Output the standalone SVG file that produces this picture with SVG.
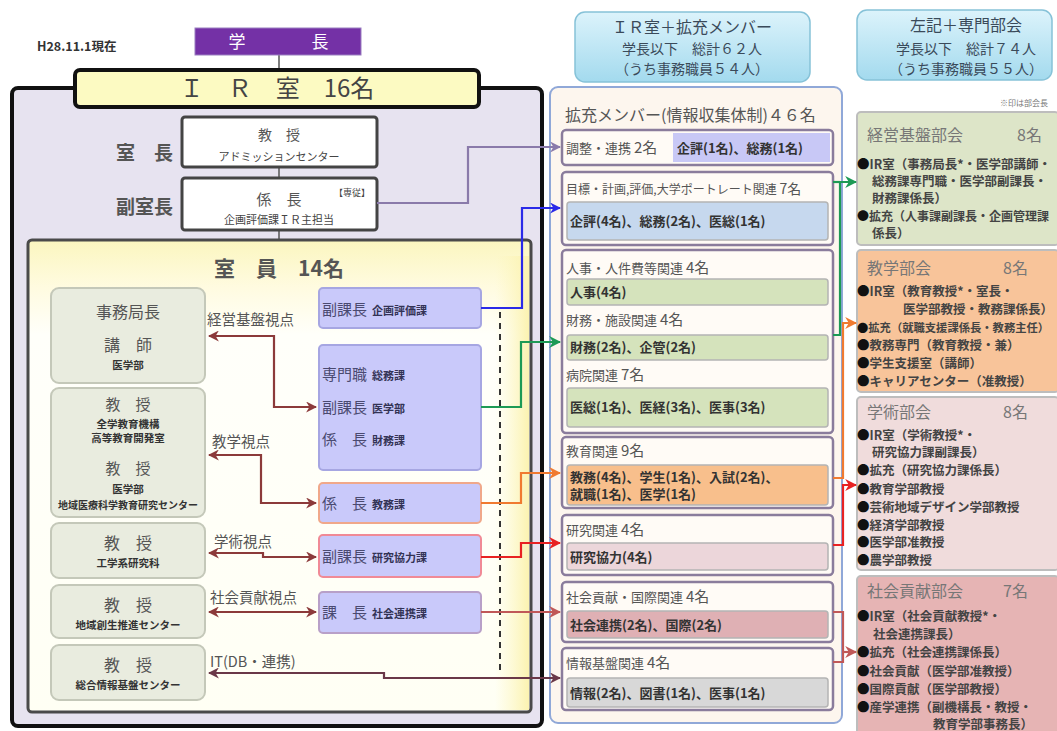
<svg xmlns="http://www.w3.org/2000/svg" width="1057" height="731" viewBox="0 0 1057 731">
<defs>
  <linearGradient id="gCyan" x1="0" y1="0" x2="0" y2="1"><stop offset="0" stop-color="#dcf3fb"/><stop offset="1" stop-color="#a3daee"/></linearGradient>
  <linearGradient id="gMem" x1="0" y1="0" x2="0" y2="1"><stop offset="0" stop-color="#fbf6bf"/><stop offset="0.1" stop-color="#fffbe0"/><stop offset="0.2" stop-color="#fffffa"/><stop offset="1" stop-color="#fffff4"/></linearGradient>
  <linearGradient id="gMemR" x1="0" y1="0" x2="1" y2="0"><stop offset="0" stop-color="#fdf7c0" stop-opacity="0"/><stop offset="1" stop-color="#fbf2b0"/></linearGradient>
  <marker id="mBrown" viewBox="0 0 10 10" refX="9" refY="5" markerWidth="11" markerHeight="11" markerUnits="userSpaceOnUse" orient="auto-start-reverse"><path d="M0,0 L10,5 L0,10 L3,5 z" fill="#8c3a3a"/></marker>
  <marker id="mDark" viewBox="0 0 10 10" refX="9" refY="5" markerWidth="11" markerHeight="11" markerUnits="userSpaceOnUse" orient="auto-start-reverse"><path d="M0,0 L10,5 L0,10 L3,5 z" fill="#6a3848"/></marker>
  <marker id="mGray" viewBox="0 0 10 10" refX="9" refY="5" markerWidth="11" markerHeight="11" markerUnits="userSpaceOnUse" orient="auto"><path d="M0,0 L10,5 L0,10 L3,5 z" fill="#8a7aaa"/></marker>
  <marker id="mBlue" viewBox="0 0 10 10" refX="9" refY="5" markerWidth="11" markerHeight="11" markerUnits="userSpaceOnUse" orient="auto"><path d="M0,0 L10,5 L0,10 L3,5 z" fill="#2a2ae8"/></marker>
  <marker id="mGreen" viewBox="0 0 10 10" refX="9" refY="5" markerWidth="12" markerHeight="12" markerUnits="userSpaceOnUse" orient="auto"><path d="M0,0 L10,5 L0,10 L3,5 z" fill="#1d9a55"/></marker>
  <marker id="mOrange" viewBox="0 0 10 10" refX="9" refY="5" markerWidth="12" markerHeight="12" markerUnits="userSpaceOnUse" orient="auto"><path d="M0,0 L10,5 L0,10 L3,5 z" fill="#f07a30"/></marker>
  <marker id="mRed" viewBox="0 0 10 10" refX="9" refY="5" markerWidth="12" markerHeight="12" markerUnits="userSpaceOnUse" orient="auto"><path d="M0,0 L10,5 L0,10 L3,5 z" fill="#e82222"/></marker>
  <marker id="mRose" viewBox="0 0 10 10" refX="9" refY="5" markerWidth="12" markerHeight="12" markerUnits="userSpaceOnUse" orient="auto"><path d="M0,0 L10,5 L0,10 L3,5 z" fill="#c05858"/></marker>
</defs>
<style>
  text { font-family: "Noto Sans CJK JP", "Noto Sans", sans-serif; fill: #444; }
  .c { text-anchor: middle; }
  .b { font-weight: 700; }
  .lbox { fill: #e9ecdf; stroke: #c4c8b9; stroke-width: 2; }
  .lt { font-size: 16px; fill: #555; text-anchor: middle; }
  .ls { font-size: 10.5px; font-weight: 700; fill: #333; text-anchor: middle; }
  .pbox { fill: #c9c9fa; stroke: #a6a6e2; stroke-width: 2; }
  .pt { font-size: 15px; fill: #4a4a70; }
  .ps { font-size: 11px; font-weight: 700; fill: #333355; }
  .view { font-size: 14.5px; fill: #555; }
  .sub { fill: #fffbf6; stroke: #8a7c9c; stroke-width: 2.5; }
  .in { stroke: #b4b4b4; stroke-width: 1.5; }
  .mt { font-size: 13px; fill: #555; }
  .mi { font-size: 13px; fill: #333; font-weight: 700; }
  .rbox { stroke: #bdbdbd; stroke-width: 2; }
  .rt { font-size: 16px; fill: #777; }
  .rb { font-size: 12.5px; fill: #444; font-weight: 700; }
  .dot { fill: #111; }
  .hd { font-size: 14px; fill: #3a4a5a; text-anchor: middle; }
  .conn { fill: none; stroke-width: 2.2; }
</style>
<rect width="1057" height="731" fill="#ffffff"/>

<text x="37" y="51" style="font-size:12.5px;fill:#333" class="b">H28.11.1現在</text>

<g id="ir-frame">
  <rect x="12" y="88" width="530" height="638" rx="6" fill="#e7e3f0" stroke="#111" stroke-width="4"/>
</g>

<g id="connectors-vertical" stroke="#555" stroke-width="1.5">
  <line x1="279" y1="55" x2="279" y2="70"/>
  <line x1="279" y1="167" x2="279" y2="178"/>
  <line x1="279" y1="230" x2="279" y2="240"/>
</g>

<g id="president">
  <rect x="195" y="28" width="166" height="27" fill="#7431a6" stroke="#9a7fc0" stroke-width="1"/>
  <text x="237" y="48" class="c" style="font-size:17px;fill:#fff">学</text>
  <text x="320" y="48" class="c" style="font-size:17px;fill:#fff">長</text>
</g>

<g id="ir-banner">
  <rect x="75" y="70" width="404" height="37" rx="5" fill="#fcfac2" stroke="#111" stroke-width="4"/>
  <text x="277" y="97" class="c" style="font-size:24px;fill:#444">Ｉ　Ｒ　室　16名</text>
</g>

<g id="chief">
  <text x="116" y="160" class="b" style="font-size:19px;fill:#555">室　長</text>
  <rect x="182" y="117" width="195" height="50" rx="3" fill="#fff" stroke="#444" stroke-width="3"/>
  <text x="279" y="140" class="c" style="font-size:14px;fill:#555">教　授</text>
  <text x="279" y="161" class="c" style="font-size:11px;fill:#444">アドミッションセンター</text>
</g>

<g id="vice-chief">
  <text x="116" y="214" class="b" style="font-size:19px;fill:#555">副室長</text>
  <rect x="182" y="178" width="195" height="52" rx="3" fill="#fff" stroke="#444" stroke-width="3"/>
  <text x="279" y="205" class="c" style="font-size:15px;fill:#555">係　長</text>
  <text x="352" y="196" class="c" style="font-size:9px;fill:#444">【専従】</text>
  <text x="279" y="224" class="c" style="font-size:11px;fill:#444">企画評価課ＩＲ主担当</text>
</g>

<g id="staff-frame">
  <rect x="28" y="240" width="503" height="472" rx="4" fill="url(#gMem)" stroke="#4a4a4a" stroke-width="3"/>
  <rect x="495" y="256" width="34" height="454" fill="url(#gMemR)"/>
  <text x="279" y="276" class="c b" style="font-size:21px;fill:#555">室　員　14名</text>
</g>

<g id="l-keiei">
  <rect class="lbox" x="51" y="288" width="154" height="95" rx="8"/>
  <text class="lt" x="128" y="318">事務局長</text>
  <text class="lt" x="128" y="351">講　師</text>
  <text class="ls" x="128" y="369">医学部</text>
</g>
<g id="l-kyogaku">
  <rect class="lbox" x="51" y="388" width="154" height="129" rx="8"/>
  <text class="lt" x="128" y="410" style="font-size:15px">教　授</text>
  <text class="ls" x="128" y="428">全学教育機構</text>
  <text class="ls" x="128" y="442">高等教育開発室</text>
  <text class="lt" x="128" y="474" style="font-size:15px">教　授</text>
  <text class="ls" x="128" y="493">医学部</text>
  <text class="ls" x="128" y="509" style="font-size:10px">地域医療科学教育研究センター</text>
</g>
<g id="l-gakujutsu">
  <rect class="lbox" x="51" y="523" width="154" height="55" rx="8"/>
  <text class="lt" x="128" y="549">教　授</text>
  <text class="ls" x="128" y="567">工学系研究科</text>
</g>
<g id="l-shakai">
  <rect class="lbox" x="51" y="585" width="154" height="53" rx="8"/>
  <text class="lt" x="128" y="611">教　授</text>
  <text class="ls" x="128" y="629">地域創生推進センター</text>
</g>
<g id="l-it">
  <rect class="lbox" x="51" y="645" width="154" height="55" rx="8"/>
  <text class="lt" x="128" y="671">教　授</text>
  <text class="ls" x="128" y="689">総合情報基盤センター</text>
</g>

<g id="p-kikaku">
  <rect class="pbox" x="319" y="288" width="162" height="40" rx="4"/>
  <text x="322" y="315"><tspan class="pt">副課長</tspan><tspan class="ps" dx="5">企画評価課</tspan></text>
</g>
<g id="p-somu">
  <rect class="pbox" x="319" y="345" width="162" height="125" rx="4"/>
  <text x="322" y="380"><tspan class="pt">専門職</tspan><tspan class="ps" dx="5">総務課</tspan></text>
  <text x="322" y="413"><tspan class="pt">副課長</tspan><tspan class="ps" dx="5">医学部</tspan></text>
  <text x="322" y="445"><tspan class="pt">係　長</tspan><tspan class="ps" dx="5">財務課</tspan></text>
</g>
<g id="p-kyomu">
  <rect class="pbox" x="319" y="483" width="162" height="40" rx="4" style="stroke:#f0a88a"/>
  <text x="322" y="509"><tspan class="pt">係　長</tspan><tspan class="ps" dx="5">教務課</tspan></text>
</g>
<g id="p-kenkyu">
  <rect class="pbox" x="319" y="535" width="162" height="42" rx="4" style="stroke:#f08a96"/>
  <text x="322" y="562"><tspan class="pt">副課長</tspan><tspan class="ps" dx="5">研究協力課</tspan></text>
</g>
<g id="p-shakai">
  <rect class="pbox" x="319" y="592" width="162" height="41" rx="4" style="stroke:#b8a0c8"/>
  <text x="322" y="618"><tspan class="pt">課　長</tspan><tspan class="ps" dx="5">社会連携課</tspan></text>
</g>

<g id="view-labels">
  <text class="view" x="207" y="325">経営基盤視点</text>
  <text class="view" x="212" y="447">教学視点</text>
  <text class="view" x="214" y="547">学術視点</text>
  <text class="view" x="210" y="603">社会貢献視点</text>
  <text class="view" x="210" y="667">IT(DB・連携)</text>
</g>

<g id="hdr-mid">
  <rect x="575" y="12" width="235" height="70" rx="10" fill="url(#gCyan)" stroke="#86c2d8" stroke-width="1.5"/>
  <text class="hd" x="692" y="33" style="font-size:16px">ＩＲ室＋拡充メンバー</text>
  <text class="hd" x="692" y="54">学長以下　総計６２人</text>
  <text class="hd" x="692" y="74">（うち事務職員５４人）</text>
</g>
<g id="hdr-right">
  <rect x="857" y="10" width="195" height="70" rx="10" fill="url(#gCyan)" stroke="#86c2d8" stroke-width="1.5"/>
  <text class="hd" x="966" y="31" style="font-size:16px">左記＋専門部会</text>
  <text class="hd" x="966" y="54">学長以下　総計７４人</text>
  <text class="hd" x="966" y="74">（うち事務職員５５人）</text>
</g>

<g id="mid-frame">
  <rect x="550" y="87" width="292" height="636" rx="8" fill="#fdf6ee" stroke="#90a8d8" stroke-width="2"/>
  <text x="565" y="121" style="font-size:16px;fill:#555">拡充メンバー(情報収集体制)４６名</text>
</g>
<g id="m-chosei">
  <rect class="sub" x="562" y="130" width="271" height="35" rx="4"/>
  <rect x="673" y="133" width="157" height="29" fill="#c8c8f6"/>
  <text class="mt" x="566" y="153">調整・連携 <tspan style="font-size:15px">2名</tspan></text>
  <text class="mi" x="677" y="153">企評(1名)、総務(1名)</text>
</g>
<g id="m-mokuhyo">
  <rect class="sub" x="562" y="172" width="271" height="73" rx="4"/>
  <text class="mt" x="566" y="194" style="font-size:12px">目標・計画,評価,大学ポートレート関連 <tspan style="font-size:14px">7名</tspan></text>
  <rect class="in" x="567" y="202" width="261" height="38" rx="3" fill="#c6d8ee"/>
  <text class="mi" x="570" y="226">企評(4名)、総務(2名)、医総(1名)</text>
</g>
<g id="m-jinji">
  <rect class="sub" x="562" y="250" width="271" height="183" rx="4"/>
  <text class="mt" x="566" y="273">人事・人件費等関連 <tspan style="font-size:15px">4名</tspan></text>
  <rect class="in" x="567" y="279" width="261" height="26" rx="3" fill="#d5e3bc"/>
  <text class="mi" x="570" y="297">人事(4名)</text>
  <text class="mt" x="566" y="325">財務・施設関連 <tspan style="font-size:15px">4名</tspan></text>
  <rect class="in" x="567" y="335" width="261" height="25" rx="3" fill="#d5e3bc"/>
  <text class="mi" x="570" y="352">財務(2名)、企管(2名)</text>
  <text class="mt" x="566" y="380">病院関連 <tspan style="font-size:15px">7名</tspan></text>
  <rect class="in" x="567" y="388" width="261" height="39" rx="3" fill="#d5e3bc"/>
  <text class="mi" x="570" y="412">医総(1名)、医経(3名)、医事(3名)</text>
</g>
<g id="m-kyoiku">
  <rect class="sub" x="562" y="437" width="271" height="71" rx="4"/>
  <text class="mt" x="566" y="456">教育関連 <tspan style="font-size:15px">9名</tspan></text>
  <rect class="in" x="567" y="465" width="261" height="40" rx="3" fill="#f8bf8c"/>
  <text class="mi" x="570" y="482">教務(4名)、学生(1名)、入試(2名)、</text>
  <text class="mi" x="570" y="499">就職(1名)、医学(1名)</text>
</g>
<g id="m-kenkyu">
  <rect class="sub" x="562" y="515" width="271" height="60" rx="4"/>
  <text class="mt" x="566" y="535">研究関連 <tspan style="font-size:15px">4名</tspan></text>
  <rect class="in" x="567" y="543" width="261" height="27" rx="3" fill="#ecd6da"/>
  <text class="mi" x="570" y="562">研究協力(4名)</text>
</g>
<g id="m-shakai">
  <rect class="sub" x="562" y="582" width="271" height="60" rx="4"/>
  <text class="mt" x="566" y="602">社会貢献・国際関連 <tspan style="font-size:15px">4名</tspan></text>
  <rect class="in" x="567" y="611" width="261" height="27" rx="3" fill="#dfb0b4"/>
  <text class="mi" x="570" y="630">社会連携(2名)、国際(2名)</text>
</g>
<g id="m-joho">
  <rect class="sub" x="562" y="648" width="271" height="62" rx="4"/>
  <text class="mt" x="566" y="668">情報基盤関連 <tspan style="font-size:15px">4名</tspan></text>
  <rect class="in" x="567" y="678" width="261" height="29" rx="3" fill="#d8d8d8"/>
  <text class="mi" x="570" y="698">情報(2名)、図書(1名)、医事(1名)</text>
</g>

<text x="1000" y="106" style="font-size:8px;fill:#777">※印は部会長</text>
<g id="r-keiei">
  <rect class="rbox" x="857" y="112" width="202" height="133" rx="4" fill="#dde5c8"/>
  <text class="rt" x="867" y="141">経営基盤部会</text>
  <text class="rt" x="1017" y="141">8名</text>
  <text class="rb" x="857" y="169"><tspan class="dot">●</tspan>IR室（事務局長*・医学部講師・</text>
  <text class="rb" x="872" y="186">総務課専門職・医学部副課長・</text>
  <text class="rb" x="872" y="203">財務課係長）</text>
  <text class="rb" x="857" y="221" style="font-size:12px"><tspan class="dot">●</tspan>拡充（人事課副課長・企画管理課</text>
  <text class="rb" x="872" y="238">係長）</text>
</g>
<g id="r-kyogaku">
  <rect class="rbox" x="857" y="250" width="202" height="142" rx="4" fill="#f8c49a"/>
  <text class="rt" x="867" y="274">教学部会</text>
  <text class="rt" x="1003" y="274">8名</text>
  <text class="rb" x="857" y="296"><tspan class="dot">●</tspan>IR室（教育教授*・室長・</text>
  <text class="rb" x="903" y="314">医学部教授・教務課係長）</text>
  <text class="rb" x="857" y="332" style="font-size:11.3px"><tspan class="dot">●</tspan>拡充（就職支援課係長・教務主任）</text>
  <text class="rb" x="857" y="350"><tspan class="dot">●</tspan>教務専門（教育教授・兼）</text>
  <text class="rb" x="857" y="368"><tspan class="dot">●</tspan>学生支援室（講師）</text>
  <text class="rb" x="857" y="386"><tspan class="dot">●</tspan>キャリアセンター（准教授）</text>
</g>
<g id="r-gakujutsu">
  <rect class="rbox" x="857" y="397" width="202" height="173" rx="4" fill="#f0dcdc"/>
  <text class="rt" x="867" y="418">学術部会</text>
  <text class="rt" x="1003" y="418">8名</text>
  <text class="rb" x="857" y="440"><tspan class="dot">●</tspan>IR室（学術教授*・</text>
  <text class="rb" x="872" y="457">研究協力課副課長）</text>
  <text class="rb" x="857" y="475"><tspan class="dot">●</tspan>拡充（研究協力課係長）</text>
  <text class="rb" x="857" y="494"><tspan class="dot">●</tspan>教育学部教授</text>
  <text class="rb" x="857" y="512"><tspan class="dot">●</tspan>芸術地域デザイン学部教授</text>
  <text class="rb" x="857" y="530"><tspan class="dot">●</tspan>経済学部教授</text>
  <text class="rb" x="857" y="547"><tspan class="dot">●</tspan>医学部准教授</text>
  <text class="rb" x="857" y="565"><tspan class="dot">●</tspan>農学部教授</text>
</g>
<g id="r-shakai">
  <rect class="rbox" x="857" y="576" width="202" height="162" rx="4" fill="#e6b4b4"/>
  <text class="rt" x="867" y="597">社会貢献部会</text>
  <text class="rt" x="1003" y="597">7名</text>
  <text class="rb" x="857" y="621"><tspan class="dot">●</tspan>IR室（社会貢献教授*・</text>
  <text class="rb" x="873" y="639">社会連携課長）</text>
  <text class="rb" x="857" y="657"><tspan class="dot">●</tspan>拡充（社会連携課係長）</text>
  <text class="rb" x="857" y="676"><tspan class="dot">●</tspan>社会貢献（医学部准教授）</text>
  <text class="rb" x="857" y="694"><tspan class="dot">●</tspan>国際貢献（医学部教授）</text>
  <text class="rb" x="857" y="712"><tspan class="dot">●</tspan>産学連携（副機構長・教授・</text>
  <text class="rb" x="933" y="729">教育学部事務長）</text>
</g>

<g id="connectors">
  <line x1="500" y1="312" x2="500" y2="670" stroke="#333" stroke-width="2" stroke-dasharray="6,5"/>
  <path class="conn" d="M209,336 H274 V407 H316" stroke="#8c3a3a" marker-start="url(#mBrown)" marker-end="url(#mBrown)"/>
  <path class="conn" d="M209,455 H261 V503 H316" stroke="#8c3a3a" marker-start="url(#mBrown)" marker-end="url(#mBrown)"/>
  <path class="conn" d="M209,553 H263 V557 H316" stroke="#8c3a3a" marker-start="url(#mBrown)" marker-end="url(#mBrown)"/>
  <path class="conn" d="M209,612 H316" stroke="#8c3a3a" marker-start="url(#mBrown)" marker-end="url(#mBrown)"/>
  <path class="conn" d="M209,673 H384 V678 H560" stroke="#6a3848" marker-start="url(#mDark)" marker-end="url(#mDark)"/>
  <path class="conn" d="M377,203 H468 V147 H560" stroke="#8a7aaa" marker-end="url(#mGray)"/>
  <path class="conn" d="M481,308 H522 V208 H560" stroke="#2a2ae8" marker-end="url(#mBlue)"/>
  <path class="conn" d="M481,407 H521 V342 H560" stroke="#1d9a55" marker-end="url(#mGreen)"/>
  <path class="conn" d="M481,503 H521 V473 H560" stroke="#f07a30" marker-end="url(#mOrange)"/>
  <path class="conn" d="M481,557 H521 V543 H560" stroke="#e82222" marker-end="url(#mRed)"/>
  <path class="conn" d="M481,612 H560" stroke="#c05858" marker-end="url(#mRose)"/>
  <path class="conn" d="M833,335 H840 V182 H856" stroke="#1d9a55" stroke-width="3" marker-end="url(#mGreen)"/>
  <path class="conn" d="M833,182 H840" stroke="#1d9a55" stroke-width="3"/>
  <path class="conn" d="M833,478 H843 V323 H856" stroke="#f07a30" stroke-width="3" marker-end="url(#mOrange)"/>
  <path class="conn" d="M833,545 H843 V485 H856" stroke="#e82222" stroke-width="3" marker-end="url(#mRed)"/>
  <path class="conn" d="M833,612 H843 V662 H833" stroke="#c05858" stroke-width="3"/>
  <path class="conn" d="M843,652 H856" stroke="#c05858" stroke-width="3" marker-end="url(#mRose)"/>
</g>
</svg>
